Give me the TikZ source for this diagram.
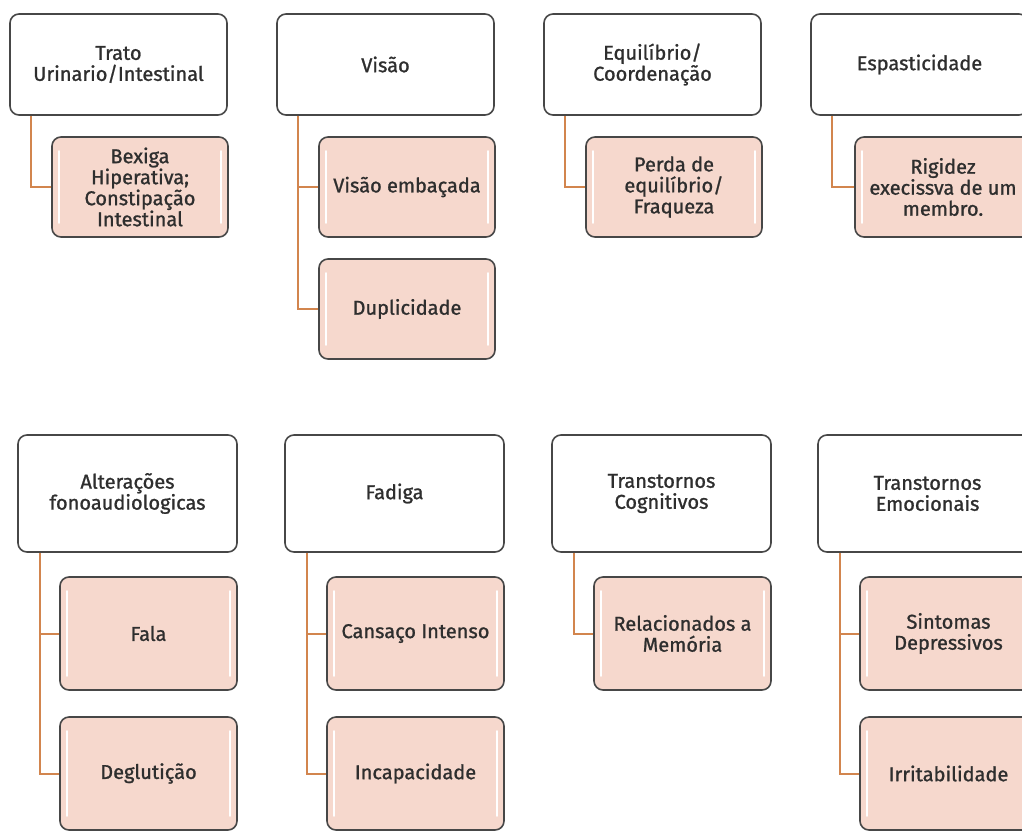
\documentclass[tikz,border=0pt]{standalone}
\usepackage{fontspec}
\setmainfont{Fira Sans}
\newfontfamily\boxfont{Fira Sans}[FakeBold=1.1]
\definecolor{boxline}{HTML}{474747}
\definecolor{childfill}{HTML}{F6D8CD}
\definecolor{conn}{HTML}{D2854E}
\definecolor{txt}{HTML}{2E2E2E}
\begin{document}
\begin{tikzpicture}[x=1pt,y=-1pt,
  base/.style={draw=boxline,line width=1.6pt,rounded corners=9pt,align=center,
    text=txt,font=\boxfont\fontsize{20}{21}\selectfont,inner sep=1pt},
  parent/.style={base,fill=white,minimum width=217pt,minimum height=101pt},
  child/.style={base,fill=childfill,minimum width=176pt,minimum height=100pt,
    path picture={\draw[white,line width=1.6pt,line cap=round]
      ([xshift=7pt,yshift=-14pt]path picture bounding box.north west) --
      ([xshift=7pt,yshift=14pt]path picture bounding box.south west);
      \draw[white,line width=1.6pt,line cap=round]
      ([xshift=-7pt,yshift=-14pt]path picture bounding box.north east) --
      ([xshift=-7pt,yshift=14pt]path picture bounding box.south east);}},
  bparent/.style={parent,minimum width=219pt,minimum height=117pt},
  bchild/.style={child,minimum width=177pt,minimum height=113pt},
  link/.style={draw=conn,line width=2pt}]
\useasboundingbox (0,0) rectangle (1022,830);
\clip (0,0) rectangle (1022,830);
% top row
\node[parent] (p1) at (118.5,64.5) {Trato\\Urinario/Intestinal};
\node[child] (c11) at (140,187) {Bexiga\\Hiperativa;\\Constipação\\Intestinal};
\node[parent] (p2) at (385.5,64.5) {Visão};
\node[child] (c21) at (407,187) {Visão embaçada};
\node[child] (c22) at (407,309) {Duplicidade};
\node[parent] (p3) at (652.5,64.5) {Equilíbrio/\\Coordenação};
\node[child] (c31) at (674,187) {Perda de\\equilíbrio/\\Fraqueza};
\node[parent] (p4) at (919.5,64.5) {Espasticidade};
\node[child] (c41) at (943,187) {Rigidez\\execissva de um\\membro.};
% bottom row
\node[bparent] (p5) at (127.5,493.5) {Alterações\\fonoaudiologicas};
\node[bchild] (c51) at (148.5,633.5) {Fala};
\node[bchild] (c52) at (148.5,773.5) {Deglutição};
\node[bparent] (p6) at (394.5,493.5) {Fadiga};
\node[bchild] (c61) at (415.5,633.5) {Cansaço Intenso};
\node[bchild] (c62) at (415.5,773.5) {Incapacidade};
\node[bparent] (p7) at (661.5,493.5) {Transtornos\\Cognitivos};
\node[bchild] (c71) at (682.5,633.5) {Relacionados a\\Memória};
\node[bparent] (p8) at (927.5,493.5) {Transtornos\\Emocionais};
\node[bchild] (c81) at (948.5,633.5) {Sintomas\\Depressivos};
\node[bchild] (c82) at (948.5,773.5) {Irritabilidade};
% connectors
\draw[link] ([xshift=22pt]p1.south west) |- (c11.west);
\draw[link] ([xshift=22pt]p2.south west) |- (c21.west);
\draw[link] ([xshift=22pt]p2.south west) |- (c22.west);
\draw[link] ([xshift=22pt]p3.south west) |- (c31.west);
\draw[link] ([xshift=22pt]p4.south west) |- (c41.west);
\draw[link] ([xshift=23pt]p5.south west) |- (c51.west);
\draw[link] ([xshift=23pt]p5.south west) |- (c52.west);
\draw[link] ([xshift=23pt]p6.south west) |- (c61.west);
\draw[link] ([xshift=23pt]p6.south west) |- (c62.west);
\draw[link] ([xshift=23pt]p7.south west) |- (c71.west);
\draw[link] ([xshift=23pt]p8.south west) |- (c81.west);
\draw[link] ([xshift=23pt]p8.south west) |- (c82.west);
\end{tikzpicture}
\end{document}
